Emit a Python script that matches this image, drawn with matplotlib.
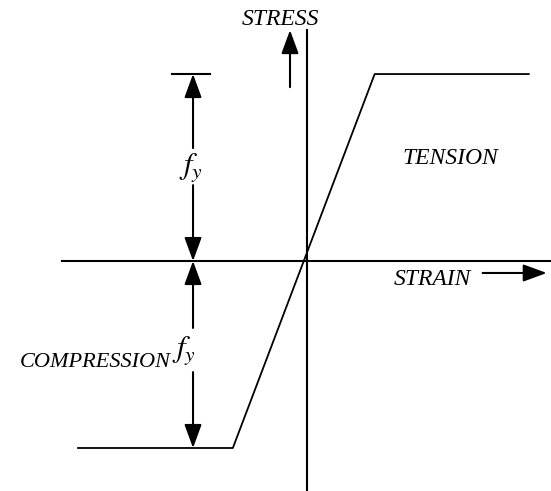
import matplotlib
matplotlib.use("Agg")
import matplotlib.pyplot as plt

# stress-strain curve (elastic-perfectly plastic), strain in units of yield strain
strain = [-3.18, -1.03, 0.94, 3.08]
stress = [-1.0, -1.0, 1.0, 1.0]
fy = 1.0

plt.rcParams['mathtext.fontset'] = 'stix'
serif = 'Liberation Serif'

fig = plt.figure(figsize=(5.51, 4.91), dpi=100)
ax = fig.add_axes([0, 0, 1, 1])
ax.set_xlim(-4.264, 3.389)
ax.set_ylim(-1.23, 1.396)
ax.axis('off')

lw = 1.5
# axes
ax.plot([-3.40, 3.389], [0, 0], color='k', lw=lw)
ax.plot([0, 0], [-1.23, 1.235], color='k', lw=lw)

# curve
ax.plot(strain, stress, color='k', lw=1.3)

# f_y dimension lines
xd = -1.583
ax.plot([-1.875, -1.347], [fy, fy], color='k', lw=lw)
arr = dict(arrowstyle='-|>,head_length=0.9,head_width=0.33', lw=lw, color='k',
           shrinkA=0, shrinkB=0, mutation_scale=16)
ax.annotate('', xy=(xd, fy), xytext=(xd, 0.604), arrowprops=arr)
ax.annotate('', xy=(xd, 0), xytext=(xd, 0.406), arrowprops=arr)
ax.annotate('', xy=(xd, 0), xytext=(xd, -0.358), arrowprops=arr)
ax.annotate('', xy=(xd, -fy), xytext=(xd, -0.594), arrowprops=arr)
ax.text(xd - 0.03, 0.50, r'$f_y$', fontsize=22, ha='center', va='center')
ax.text(-1.88, -0.48, r'$f_y$', fontsize=22, ha='left', va='center')

# stress / strain arrows
ax.annotate('', xy=(-0.236, 1.235), xytext=(-0.236, 0.93), arrowprops=arr)
ax.annotate('', xy=(3.33, -0.064), xytext=(2.44, -0.064), arrowprops=arr)

# labels
ax.text(-0.375, 1.294, 'STRESS', fontsize=17, style='italic', family=serif,
        ha='center', va='center')
ax.text(1.99, 0.55, 'TENSION', fontsize=17, style='italic', family=serif,
        ha='center', va='center')
ax.text(1.74, -0.10, 'STRAIN', fontsize=17, style='italic', family=serif,
        ha='center', va='center')
ax.text(-1.89, -0.545, 'COMPRESSION', fontsize=16, style='italic', family=serif,
        ha='right', va='center')

fig.savefig('out.png', dpi=100)
